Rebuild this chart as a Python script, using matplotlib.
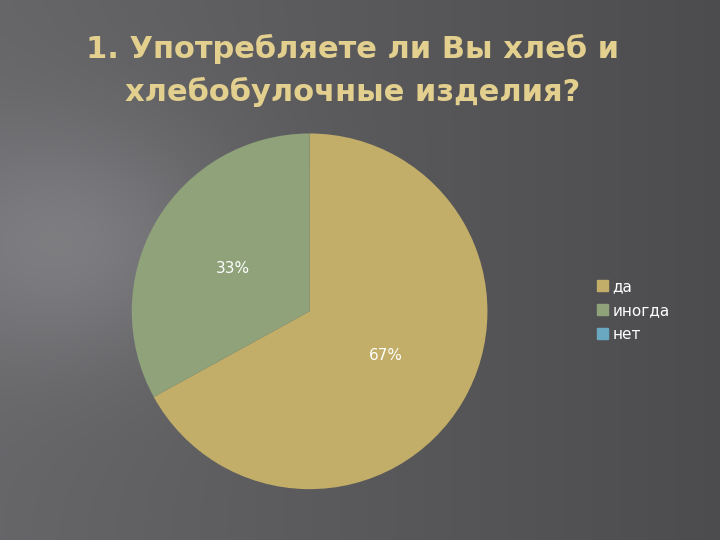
import matplotlib
matplotlib.use("Agg")
import matplotlib.pyplot as plt
import numpy as np

labels = ["да", "иногда", "нет"]
values = [67, 33, 0]
colors = ["#C2AE68", "#8FA27A", "#6AA7C0"]
title = "1. Употребляете ли Вы хлеб и\nхлебобулочные изделия?"

fig = plt.figure(figsize=(7.2, 5.4), dpi=100)
bg = fig.add_axes([0, 0, 1, 1])
xx, yy = np.meshgrid(np.linspace(0, 1, 300), np.linspace(0, 1, 300))
g = 0.40 - 0.10 * xx + 0.10 * np.exp(-((xx - 0.1) ** 2 + (yy - 0.45) ** 2) / 0.05)
g = np.clip(g, 0, 1)
img = np.dstack([g, g, g * 1.03])
bg.imshow(np.clip(img, 0, 1), extent=[0, 1, 0, 1], aspect="auto")
bg.axis("off")

fig.text(0.49, 0.87, title, ha="center", va="center", fontsize=22,
         fontweight="bold", color="#E3CF8E", linespacing=1.55)

ax = fig.add_axes([0.183, 0.094, 0.494, 0.659])
wedges, texts = ax.pie(values, colors=colors, startangle=90, counterclock=False,
                       wedgeprops=dict(linewidth=0))
ax.set_xlim(-1, 1)
ax.set_ylim(-1, 1)
ax.set_aspect("equal")
ax.text(0.43, -0.25, "67%", color="white", fontsize=11, ha="center", va="center")
ax.text(-0.43, 0.24, "33%", color="white", fontsize=11, ha="center", va="center")

handles = [plt.Rectangle((0, 0), 1, 1, color=c) for c in colors]
fig.legend(handles, labels, loc="center left", bbox_to_anchor=(0.81, 0.425),
           frameon=False, fontsize=11, labelcolor="white", handlelength=0.7,
           handleheight=0.7, handletextpad=0.3, labelspacing=0.6)

fig.savefig("out.png", dpi=100)
